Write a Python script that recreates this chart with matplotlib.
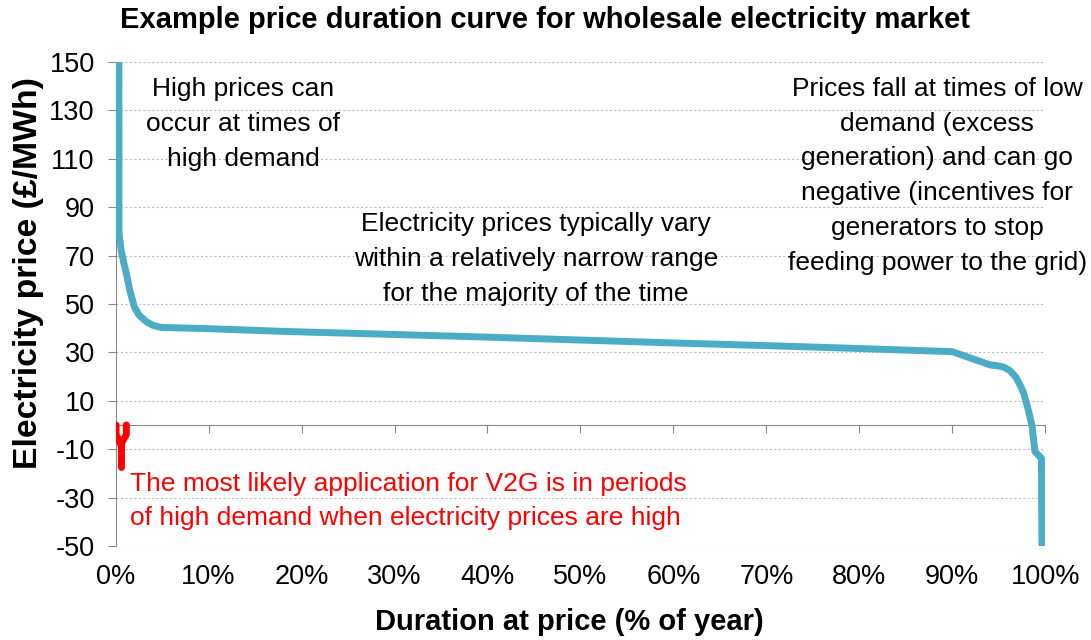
import numpy as np
import matplotlib.pyplot as plt
from matplotlib.ticker import FuncFormatter

plt.rcParams['font.family'] = ['Liberation Sans', 'DejaVu Sans']
plt.rcParams['axes.unicode_minus'] = False

# curve: duration (% of year) vs price (GBP/MWh)
duration = [0.35, 0.36, 0.6, 0.9, 1.15, 1.5, 2.0, 2.5, 3.3, 4.0, 4.9, 10, 18.7, 30, 40, 50,
            60, 70, 80, 90, 94.1, 94.8, 95.5, 96.2, 96.8, 97.3, 97.7, 98.2, 98.6, 98.9,
            99.6, 99.65]
price = [150, 79.3, 72, 66.5, 62.7, 56, 48.9, 45.5, 42.7, 41.2, 40.3, 39.8, 38.6, 37.4, 36.3, 35.1,
         33.9, 32.8, 31.6, 30.3, 24.8, 24.5, 24.0, 22.5, 20, 16.5, 13, 6, -0.7, -11,
         -13.8, -50]

# red fork marking the V2G region
v2g_left_x = [0.05, 0.05, 0.55]
v2g_left_y = [0, -4, -8]
v2g_right_x = [1.15, 1.15, 0.55]
v2g_right_y = [0, -4, -8]
v2g_stem_x = [0.55, 0.55]
v2g_stem_y = [-8, -17.5]

yticks = list(range(-50, 151, 20))
xticks = list(range(0, 101, 10))

fig, ax = plt.subplots(figsize=(10.91, 6.4), dpi=100)
fig.subplots_adjust(left=0.106, right=0.958, top=0.903, bottom=0.147)

ax.plot(duration, price, color='#4BACC6', lw=5, solid_joinstyle='round', zorder=3)
for xs, ys in [(v2g_left_x, v2g_left_y), (v2g_right_x, v2g_right_y), (v2g_stem_x, v2g_stem_y)]:
    ax.plot(xs, ys, color='red', lw=5, solid_capstyle='round', solid_joinstyle='round', zorder=4)

ax.set_xlim(0, 100)
ax.set_ylim(-50, 150)
ax.set_yticks(yticks)
ax.set_xticks(xticks)
ax.xaxis.set_major_formatter(FuncFormatter(lambda v, p: ''))
ax.yaxis.grid(True, color='#BFBFBF', linestyle=(0, (2, 2)), lw=0.8)
ax.set_axisbelow(True)

for s in ['top', 'right']:
    ax.spines[s].set_visible(False)
ax.spines['bottom'].set_position(('data', 0))
ax.spines['bottom'].set_color('#888888')
ax.spines['left'].set_color('#888888')
ax.tick_params(axis='y', colors='#888888', labelcolor='black', labelsize=19.5, length=6, direction='out', pad=9)
ax.tick_params(axis='x', colors='#888888', length=6, direction='out')
# x tick labels sit below the plot, not at the zero line
for v in xticks:
    ax.text(v, -57.5, f'{v}%', ha='center', va='top', fontsize=19.5, clip_on=False)

fig.text(0.4995, 0.968, 'Example price duration curve for wholesale electricity market',
         ha='center', va='center', fontsize=21, fontweight='bold')
fig.text(0.026, 0.573, 'Electricity price (£/MWh)', rotation=90, ha='center', va='center',
         fontsize=24.3, fontweight='bold')
fig.text(0.522, 0.028, 'Duration at price (% of year)', ha='center', va='center', fontsize=21, fontweight='bold')

ax.text(13.7, 124.5, 'High prices can\noccur at times of\nhigh demand', ha='center', va='center',
        fontsize=19, linespacing=1.57)
ax.text(45.2, 68.6, 'Electricity prices typically vary\nwithin a relatively narrow range\nfor the majority of the time',
        ha='center', va='center', fontsize=19, linespacing=1.57)
ax.text(88.4, 103, 'Prices fall at times of low\ndemand (excess\ngeneration) and can go\nnegative (incentives for\ngenerators to stop\nfeeding power to the grid)',
        ha='center', va='center', fontsize=19, linespacing=1.57)
ax.text(1.5, -31.4, 'The most likely application for V2G is in periods\nof high demand when electricity prices are high',
        ha='left', va='center', fontsize=19, color='red', linespacing=1.57)

fig.savefig('out.png', dpi=100)
